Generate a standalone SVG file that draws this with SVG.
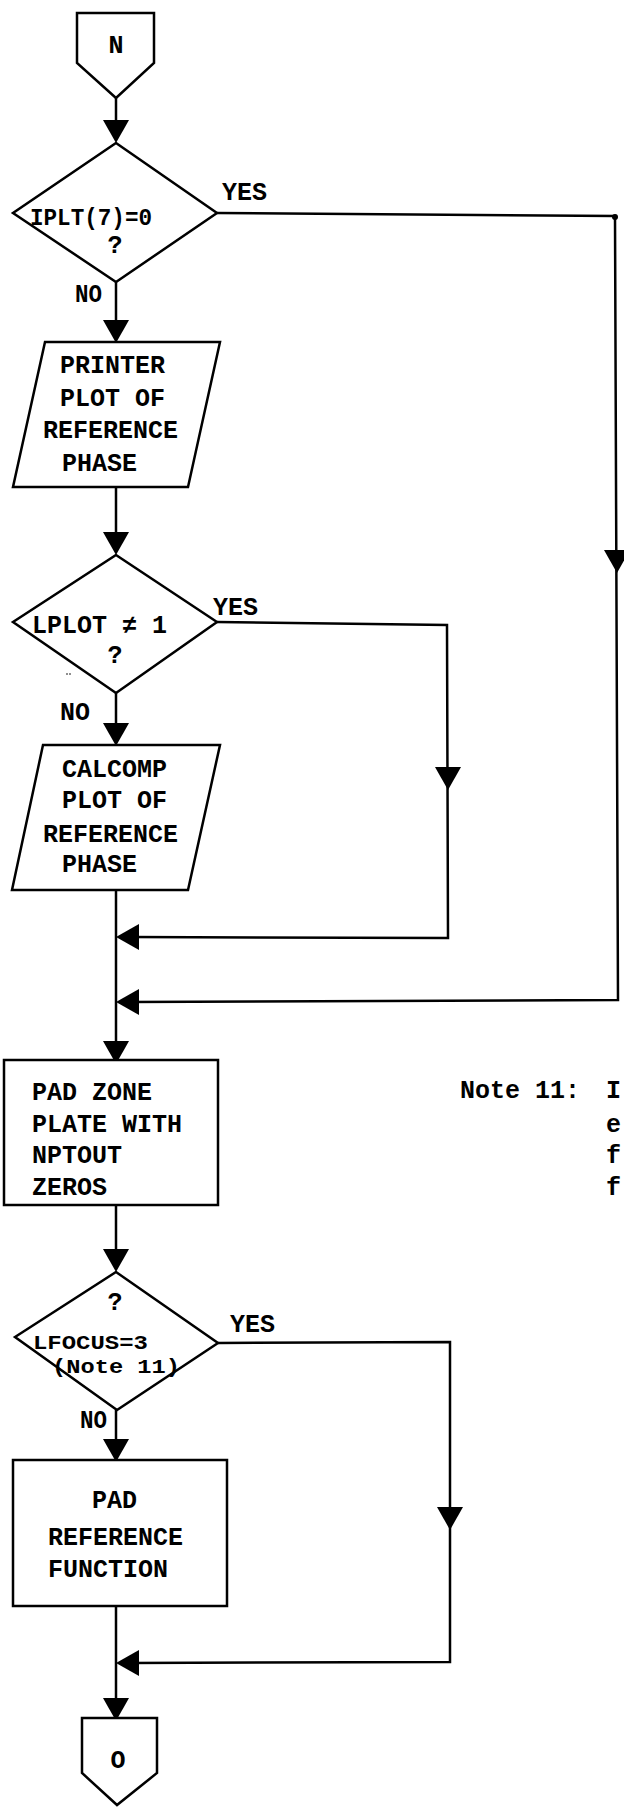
<svg xmlns="http://www.w3.org/2000/svg" xmlns:xlink="http://www.w3.org/1999/xlink" width="624" height="1812" viewBox="0 0 624 1812">
<style>
.s{fill:#fff;stroke:#000;stroke-width:2.5;stroke-linejoin:miter}
.c{fill:none;stroke:#000;stroke-width:2.5}
.t{font-family:"Liberation Mono","DejaVu Sans Mono",monospace;font-weight:bold;font-size:25px;fill:#000}
.d{font-size:23px}
.e{font-size:21px}
.m{text-anchor:middle}
</style>
<defs>
<path id="ah" d="M-13,-23 L13,-23 L0,0 Z" fill="#000"/>
</defs>
<rect width="624" height="1812" fill="#fff"/>

<g id="connectors">
<path class="c" d="M116,98 V130"/>
<path class="c" d="M116,282 V330"/>
<path class="c" d="M116,487 V540"/>
<path class="c" d="M116,693 V735" stroke-width="3.5"/>
<path class="c" d="M116,890 V1050"/>
<path class="c" d="M116,1205 V1260"/>
<path class="c" d="M116,1410 V1450"/>
<path class="c" d="M116,1606 V1705"/>
<path class="c" d="M217,213 L615,216 L618,1000 L130,1002"/>
<path class="c" d="M217,622 L447,625 L448,938 L130,937"/>
<path class="c" d="M218,1343 L450,1342 L450,1662 L130,1663"/>
<circle cx="615" cy="217" r="3" fill="#000"/>
<use xlink:href="#ah" x="116" y="143"/>
<use xlink:href="#ah" x="116" y="343"/>
<use xlink:href="#ah" x="116" y="555"/>
<use xlink:href="#ah" x="116" y="746"/>
<use xlink:href="#ah" x="116" y="1064"/>
<use xlink:href="#ah" x="116" y="1272"/>
<use xlink:href="#ah" x="116" y="1462"/>
<use xlink:href="#ah" x="116" y="1721"/>
<use xlink:href="#ah" x="448" y="790"/>
<use xlink:href="#ah" x="617" y="573"/>
<use xlink:href="#ah" x="450" y="1530"/>
<use xlink:href="#ah" transform="translate(116,937) rotate(90)"/>
<use xlink:href="#ah" transform="translate(116,1002) rotate(90)"/>
<use xlink:href="#ah" transform="translate(116,1663) rotate(90)"/>
<text class="t" x="222" y="200">YES</text>
<text class="t" x="75" y="302" textLength="27" lengthAdjust="spacingAndGlyphs">NO</text>
<text class="t" x="213" y="615">YES</text>
<text class="t" x="60" y="720" textLength="30" lengthAdjust="spacingAndGlyphs">NO</text>
<text class="t" x="230" y="1332">YES</text>
<text class="t" x="80" y="1428" textLength="27" lengthAdjust="spacingAndGlyphs">NO</text>
</g>

<g id="n-connector">
<polygon class="s" points="77,13 154,13 154,63 116,98 77,63"/>
<text class="t m" x="116" y="53">N</text>
</g>

<g id="decision-iplt">
<polygon class="s" points="116,143 217,213 116,282 13,213"/>
<text class="t d" x="30" y="225" textLength="122" lengthAdjust="spacingAndGlyphs">IPLT(7)=0</text>
<text class="t m" x="115" y="253">?</text>
</g>

<g id="printer-plot">
<polygon class="s" points="45,342 220,342 188,487 13,487"/>
<text class="t" x="60" y="373">PRINTER</text>
<text class="t" x="60" y="406">PLOT OF</text>
<text class="t" x="43" y="438">REFERENCE</text>
<text class="t" x="62" y="471">PHASE</text>
</g>

<g id="decision-lplot">
<polygon class="s" points="116,555 217,622 116,693 13,622"/>
<text class="t" x="32" y="633" textLength="135" lengthAdjust="spacingAndGlyphs">LPLOT ≠ 1</text>
<text class="t m" x="115" y="663">?</text>
<circle cx="67" cy="674" r="0.8" fill="#000"/>
<circle cx="70" cy="674" r="0.8" fill="#000"/>
</g>

<g id="calcomp-plot">
<polygon class="s" points="43,745 220,745 188,890 12,890"/>
<text class="t" x="62" y="777">CALCOMP</text>
<text class="t" x="62" y="808">PLOT OF</text>
<text class="t" x="43" y="842">REFERENCE</text>
<text class="t" x="62" y="872">PHASE</text>
</g>

<g id="pad-zone-plate">
<rect class="s" x="4" y="1060" width="214" height="145"/>
<text class="t" x="32" y="1100">PAD ZONE</text>
<text class="t" x="32" y="1132">PLATE WITH</text>
<text class="t" x="32" y="1163">NPTOUT</text>
<text class="t" x="32" y="1195">ZEROS</text>
</g>

<g id="decision-lfocus">
<polygon class="s" points="116,1272 218,1343 117,1410 15,1337"/>
<text class="t m" x="115" y="1310">?</text>
<text class="t e" x="33" y="1349" textLength="115" lengthAdjust="spacingAndGlyphs">LFOCUS=3</text>
<text class="t e" x="52" y="1373" textLength="128" lengthAdjust="spacingAndGlyphs">(Note 11)</text>
</g>

<g id="pad-reference-function">
<rect class="s" x="13" y="1460" width="214" height="146"/>
<text class="t" x="92" y="1508">PAD</text>
<text class="t" x="48" y="1545">REFERENCE</text>
<text class="t" x="48" y="1577">FUNCTION</text>
</g>

<g id="o-connector">
<polygon class="s" points="82,1718 157,1718 157,1773 117,1805 82,1773"/>
<text class="t m" x="118" y="1768">O</text>
</g>

<g id="note-11">
<text class="t" x="460" y="1098">Note 11:</text>
<text class="t" x="606" y="1098">I</text>
<text class="t" x="606" y="1132">e</text>
<text class="t" x="606" y="1163">f</text>
<text class="t" x="606" y="1195">f</text>
</g>
</svg>
